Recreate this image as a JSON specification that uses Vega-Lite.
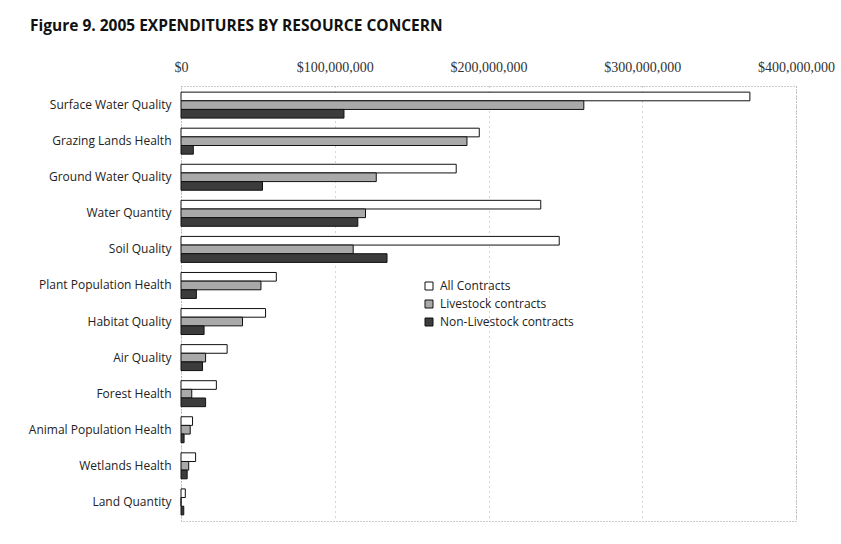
{
  "$schema": "https://vega.github.io/schema/vega-lite/v6.json",
  "autosize": {"type": "none"},
  "width": 615,
  "height": 435,
  "padding": {"left": 181, "top": 86, "right": 45, "bottom": 23},
  "background": "white",
  "title": {
    "text": "Figure 9. 2005 EXPENDITURES BY RESOURCE CONCERN",
    "anchor": "start",
    "frame": "group",
    "dx": -151,
    "offset": 26,
    "font": "Open Sans",
    "fontSize": 15.5,
    "fontWeight": "bold",
    "color": "#111111"
  },
  "data": {
    "values": [
      {"concern": "Surface Water Quality", "series": "All Contracts", "amount": 370000000},
      {"concern": "Surface Water Quality", "series": "Livestock contracts", "amount": 262000000},
      {"concern": "Surface Water Quality", "series": "Non-Livestock contracts", "amount": 106000000},
      {"concern": "Grazing Lands Health", "series": "All Contracts", "amount": 194000000},
      {"concern": "Grazing Lands Health", "series": "Livestock contracts", "amount": 186000000},
      {"concern": "Grazing Lands Health", "series": "Non-Livestock contracts", "amount": 8000000},
      {"concern": "Ground Water Quality", "series": "All Contracts", "amount": 179000000},
      {"concern": "Ground Water Quality", "series": "Livestock contracts", "amount": 127000000},
      {"concern": "Ground Water Quality", "series": "Non-Livestock contracts", "amount": 53000000},
      {"concern": "Water Quantity", "series": "All Contracts", "amount": 234000000},
      {"concern": "Water Quantity", "series": "Livestock contracts", "amount": 120000000},
      {"concern": "Water Quantity", "series": "Non-Livestock contracts", "amount": 115000000},
      {"concern": "Soil Quality", "series": "All Contracts", "amount": 246000000},
      {"concern": "Soil Quality", "series": "Livestock contracts", "amount": 112000000},
      {"concern": "Soil Quality", "series": "Non-Livestock contracts", "amount": 134000000},
      {"concern": "Plant Population Health", "series": "All Contracts", "amount": 62000000},
      {"concern": "Plant Population Health", "series": "Livestock contracts", "amount": 52000000},
      {"concern": "Plant Population Health", "series": "Non-Livestock contracts", "amount": 10000000},
      {"concern": "Habitat Quality", "series": "All Contracts", "amount": 55000000},
      {"concern": "Habitat Quality", "series": "Livestock contracts", "amount": 40000000},
      {"concern": "Habitat Quality", "series": "Non-Livestock contracts", "amount": 15000000},
      {"concern": "Air Quality", "series": "All Contracts", "amount": 30000000},
      {"concern": "Air Quality", "series": "Livestock contracts", "amount": 16000000},
      {"concern": "Air Quality", "series": "Non-Livestock contracts", "amount": 14000000},
      {"concern": "Forest Health", "series": "All Contracts", "amount": 23000000},
      {"concern": "Forest Health", "series": "Livestock contracts", "amount": 7000000},
      {"concern": "Forest Health", "series": "Non-Livestock contracts", "amount": 16000000},
      {"concern": "Animal Population Health", "series": "All Contracts", "amount": 7500000},
      {"concern": "Animal Population Health", "series": "Livestock contracts", "amount": 6000000},
      {"concern": "Animal Population Health", "series": "Non-Livestock contracts", "amount": 2000000},
      {"concern": "Wetlands Health", "series": "All Contracts", "amount": 9500000},
      {"concern": "Wetlands Health", "series": "Livestock contracts", "amount": 5000000},
      {"concern": "Wetlands Health", "series": "Non-Livestock contracts", "amount": 4000000},
      {"concern": "Land Quantity", "series": "All Contracts", "amount": 2800000},
      {"concern": "Land Quantity", "series": "Livestock contracts", "amount": 0},
      {"concern": "Land Quantity", "series": "Non-Livestock contracts", "amount": 1800000}
    ]
  },
  "mark": {"type": "bar", "stroke": "#111111", "strokeWidth": 1},
  "encoding": {
    "y": {
      "field": "concern",
      "type": "nominal",
      "sort": null,
      "scale": {"paddingInner": 0.28, "paddingOuter": 0.17},
      "axis": {
        "title": null,
        "domain": false,
        "ticks": false,
        "labelPadding": 10,
        "labelFont": "Open Sans",
        "labelFontSize": 12,
        "labelColor": "#222222",
        "grid": false
      }
    },
    "yOffset": {
      "field": "series",
      "type": "nominal",
      "sort": ["All Contracts", "Livestock contracts", "Non-Livestock contracts"],
      "scale": {"paddingInner": 0, "paddingOuter": 0}
    },
    "x": {
      "field": "amount",
      "type": "quantitative",
      "scale": {"domain": [0, 400000000], "nice": false},
      "axis": {
        "orient": "top",
        "title": null,
        "values": [0, 100000000, 200000000, 300000000, 400000000],
        "format": "$,.0f",
        "domain": false,
        "ticks": false,
        "labelPadding": 12,
        "labelFont": "Liberation Serif",
        "labelFontSize": 14,
        "labelColor": "#333333",
        "labelFlush": false,
        "grid": true,
        "gridColor": "#aaaaaa",
        "gridDash": [1, 4],
        "gridWidth": 1
      }
    },
    "fill": {
      "field": "series",
      "type": "nominal",
      "sort": ["All Contracts", "Livestock contracts", "Non-Livestock contracts"],
      "scale": {
        "domain": ["All Contracts", "Livestock contracts", "Non-Livestock contracts"],
        "range": ["#ffffff", "#a9a9a9", "#3c3c3c"]
      },
      "legend": {
        "title": null,
        "orient": "none",
        "legendX": 242,
        "legendY": 194,
        "symbolType": "square",
        "symbolSize": 64,
        "symbolStrokeColor": "#111111",
        "symbolStrokeWidth": 1,
        "labelFont": "Open Sans",
        "labelFontSize": 12,
        "labelColor": "#222222",
        "rowPadding": 6,
        "labelOffset": 5
      }
    }
  },
  "config": {
    "view": {"stroke": "#999999", "strokeDash": [1, 2], "strokeWidth": 1}
  }
}
